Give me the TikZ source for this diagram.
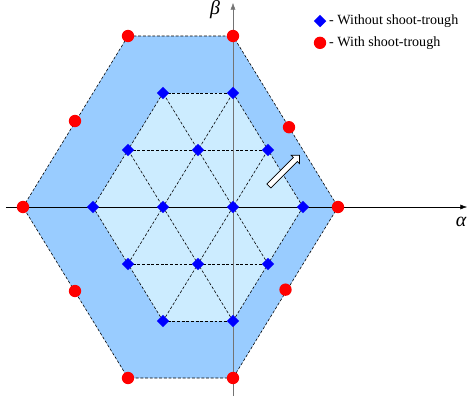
\documentclass[tikz,border=0pt]{standalone}
\usepackage{fontspec}
\setmainfont{LiberationSerif-Regular.ttf}[ItalicFont=LiberationSerif-Italic.ttf, BoldFont=LiberationSerif-Bold.ttf]
\usetikzlibrary{arrows.meta,shapes.geometric,shapes.arrows}
\definecolor{outerblue}{RGB}{153,204,255}
\definecolor{innerblue}{RGB}{204,236,255}

\begin{document}
\begin{tikzpicture}[x=2.1cm, y=1.71cm, every node/.style={font=\rmfamily\fontsize{12}{14}\selectfont}, >={Latex[length=2mm]},
	grid/.style={dash pattern=on 2.5pt off 1.5pt, line width=0.5pt},
	vdot/.style={diamond, fill=blue, inner sep=0pt, minimum size=0.38cm},
	sdot/.style={circle, fill=red, inner sep=0pt, minimum size=0.37cm}]
	\useasboundingbox (-3.3286,-3.3158) rectangle (3.357,3.6316);
	\fill[outerblue] (-3,0) -- (-1.5,3) -- (0,3) -- (1.5,0) -- (0,-3) -- (-1.5,-3) -- cycle;
	\draw[grid] (-3,0) -- (-1.5,3) -- (0,3) -- (1.5,0) -- (0,-3) -- (-1.5,-3) -- cycle;
	\fill[innerblue] (-2,0) -- (-1,2) -- (0,2) -- (1,0) -- (0,-2) -- (-1,-2) -- cycle;
	\foreach \y/\a/\b in {2/-1/0, 1/-1.5/0.5, 0/-2/1, -1/-1.5/0.5, -2/-1/0}
		\draw[grid] (\a,\y) -- (\b,\y);
	\foreach \a/\b/\c/\d in {-2/0/-1/2, -1.5/-1/0/2, -1/-2/0.5/1, 0/-2/1/0, -1/-2/-2/0, 0/-2/-1.5/1, 0.5/-1/-1/2, 1/0/0/2}
		\draw[grid] (\a,\b) -- (\c,\d);
	\draw[->] (-3.243,0) -- (3.343,0);
	\draw[->, black!55] (0,-3.3158) -- (0,3.58);
	\node (alpha) at (3.257,-0.263) {\fontsize{17}{19}\selectfont\itshape α};
	\node (beta) at (-0.257,3.456) {\fontsize{17}{19}\selectfont\itshape β};
	\node[single arrow, draw, fill=white, rotate=45, inner sep=0.075cm, single arrow head extend=0.09cm, minimum height=1.3cm, line width=0.6pt] (motion) at (0.718,0.62) {};
	\foreach \x/\y [count=\i] in {-1/2, 0/2, -1.5/1, -0.5/1, 0.5/1, -2/0, -1/0, 0/0, 1/0, -1.5/-1, -0.5/-1, 0.5/-1, -1/-2, 0/-2}
		\node[vdot] (v\i) at (\x,\y) {};
	\foreach \x/\y [count=\i] in {-3/0, -2.257/1.509, -1.5/3, 0/3, 0.8/1.4, 1.5/0, 0.75/-1.45, 0/-3, -1.5/-3, -2.257/-1.474}
		\node[sdot] (s\i) at (\x,\y) {};
	\node[vdot] (keyv) at (1.243,3.263) {};
	\node[sdot] (keys) at (1.243,2.88) {};
	\node[anchor=west, inner sep=0pt] (textv) at (1.371,3.263) {- Without shoot-trough};
	\node[anchor=west, inner sep=0pt] (texts) at (1.371,2.88) {- With shoot-trough};
\end{tikzpicture}
\end{document}
